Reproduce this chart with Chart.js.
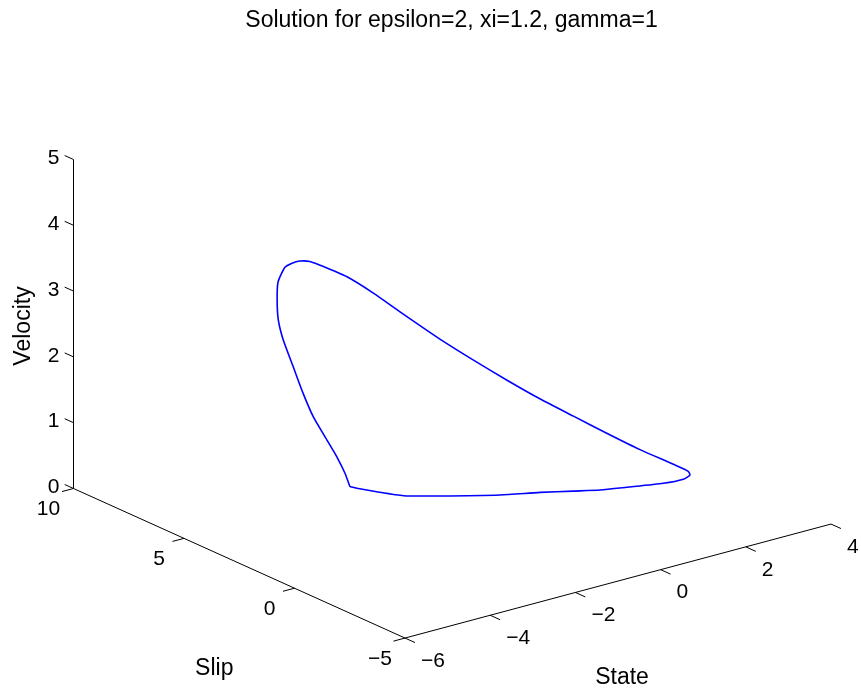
<!DOCTYPE html>
<html>
<head>
<meta charset="utf-8">
<script src="https://cdn.jsdelivr.net/npm/chart.js@4.4.0/dist/chart.umd.min.js"></script>
<style>
  html, body { margin: 0; padding: 0; background: #fff; }
  canvas { display: block; }
</style>
</head>
<body>
<canvas id="loopChart" width="861" height="692"></canvas>
<script>
// limit cycle, one sample per row (state, slip, velocity)
const stateVals = [-2.08, -1.99, -1.77, -1.48, -0.93, -0.01, 0.64, 1.15, 1.56, 2.00, 2.58, 2.88, 2.94,
    2.93, 2.79, 2.37, 1.90, 1.43, 0.90, 0.38, -0.19, -0.77, -1.50, -1.97, -2.47, -2.96, -3.16, -3.36,
    -3.50, -3.63, -3.74, -3.71, -3.63, -3.49, -3.23, -2.97, -2.73, -2.44, -2.26, -2.12, -2.08];
const slipVals = [5.05, 4.91, 4.44, 3.78, 3.19, 2.24, 1.69, 1.17, 0.74, 0.38, -0.15, -0.48, -0.66,
    -0.60, -0.20, 0.50, 1.10, 1.70, 2.20, 2.70, 3.10, 3.50, 3.90, 4.20, 4.45, 4.70, 4.78, 4.85,
    4.93, 5.00, 5.10, 5.20, 5.30, 5.35, 5.40, 5.45, 5.45, 5.40, 5.30, 5.20, 5.05];
const velocityVals = [0.10, 0.08, 0.06, 0.05, 0.04, 0.04, 0.05, 0.06, 0.07, 0.09, 0.13, 0.19, 0.27,
    0.32, 0.39, 0.58, 0.82, 1.07, 1.35, 1.65, 1.99, 2.35, 2.83, 3.15, 3.45, 3.67, 3.75, 3.78,
    3.76, 3.71, 3.49, 3.19, 2.86, 2.53, 2.07, 1.61, 1.21, 0.82, 0.55, 0.29, 0.10];

const stateTicks = [-6, -4, -2, 0, 2, 4];
const slipTicks = [10, 5, 0, -5];
const velocityTicks = [0, 1, 2, 3, 4, 5];
const titleText = 'Solution for epsilon=2, xi=1.2, gamma=1';

// 3d view: page position of the box corner (slip=10, state=-6, velocity=0) and one unit step per axis
const view = {
    x0: 73.5, y0: 488.5,
    slipRef: 10, stateRef: -6,
    slipDx: -22.1, slipDy: -9.97,
    stateDx: 42.6, stateDy: -11.4,
    velDy: -65.8
};

function project(state, slip, vel) {
    const ds = slip - view.slipRef;
    const dt = state - view.stateRef;
    return {
        x: view.x0 + ds * view.slipDx + dt * view.stateDx,
        y: view.y0 + ds * view.slipDy + dt * view.stateDy + vel * view.velDy
    };
}

const fmt = v => (v < 0 ? '\u2212' + Math.abs(v) : String(v));

const stateMin = stateTicks[0], stateMax = stateTicks[stateTicks.length - 1];
const slipMax = slipTicks[0], slipMin = slipTicks[slipTicks.length - 1];
const velMax = velocityTicks[velocityTicks.length - 1];

// axis lines and tick marks
const segments = [
    [project(stateMin, slipMax, 0), project(stateMin, slipMax, velMax)],
    [project(stateMin, slipMax, 0), project(stateMin, slipMin, 0)],
    [project(stateMin, slipMin, 0), project(stateMax, slipMin, 0)]
];
velocityTicks.forEach(v => segments.push([project(stateMin, slipMax, v), project(stateMin, slipMax + 0.4, v)]));
slipTicks.forEach(s => segments.push([project(stateMin, s, 0), project(stateMin - 0.27, s, 0)]));
stateTicks.forEach(t => segments.push([project(t, slipMin, 0), project(t, slipMin - 0.45, 0)]));

const datasets = segments.map(seg => ({
    data: seg,
    showLine: true,
    borderColor: '#000000',
    borderWidth: 1,
    pointRadius: 0,
    tension: 0
}));

datasets.push({
    label: 'trajectory',
    data: stateVals.map((s, i) => project(s, slipVals[i], velocityVals[i])),
    showLine: true,
    borderColor: '#0000ff',
    borderWidth: 1.6,
    pointRadius: 0,
    tension: 0.2
});

const labelFont = '21px "Liberation Sans", Arial, Helvetica, sans-serif';
const titleFont = '23px "Liberation Sans", Arial, Helvetica, sans-serif';

const textPlugin = {
    id: 'boxText',
    afterDraw(chart) {
        const ctx = chart.ctx;
        const sx = v => chart.scales.x.getPixelForValue(v);
        const sy = v => chart.scales.y.getPixelForValue(v);
        ctx.save();
        ctx.fillStyle = '#000000';

        ctx.font = labelFont;
        ctx.textBaseline = 'middle';
        ctx.textAlign = 'right';
        velocityTicks.forEach(v => {
            const p = project(stateMin, slipMax, v);
            ctx.fillText(fmt(v), sx(p.x - 14), sy(p.y - 1));
        });
        ctx.textAlign = 'center';
        slipTicks.forEach(s => {
            const p = project(stateMin, s, 0);
            ctx.fillText(fmt(s), sx(p.x - 25), sy(p.y + 21));
        });
        ctx.textAlign = 'left';
        stateTicks.forEach(t => {
            const p = project(t, slipMin, 0);
            ctx.fillText(fmt(t), sx(p.x + 16), sy(p.y + 23));
        });

        // axis titles
        ctx.font = titleFont;
        ctx.textBaseline = 'alphabetic';
        ctx.textAlign = 'center';
        const sm = project(stateMin, (slipMin + slipMax) / 2, 0);
        ctx.fillText('Slip', sx(sm.x - 25), sy(sm.y + 112));
        const tm = project((stateMin + stateMax) / 2, slipMin, 0);
        ctx.fillText('State', sx(tm.x + 4), sy(tm.y + 103));
        const vm = project(stateMin, slipMax, velMax / 2);
        ctx.save();
        ctx.translate(sx(30), sy(vm.y + 2));
        ctx.rotate(-Math.PI / 2);
        ctx.fillText('Velocity', 0, 0);
        ctx.restore();

        ctx.fillText(titleText, sx(451.5), sy(27));
        ctx.restore();
    }
};

const ctx = document.getElementById('loopChart').getContext('2d');
new Chart(ctx, {
    type: 'scatter',
    data: { datasets: datasets },
    options: {
        responsive: false,
        animation: false,
        layout: { padding: 0 },
        plugins: {
            legend: { display: false },
            tooltip: { enabled: false }
        },
        scales: {
            x: { type: 'linear', min: 0, max: 861, display: false },
            y: { type: 'linear', min: 0, max: 692, reverse: true, display: false }
        }
    },
    plugins: [textPlugin]
});
</script>
</body>
</html>
